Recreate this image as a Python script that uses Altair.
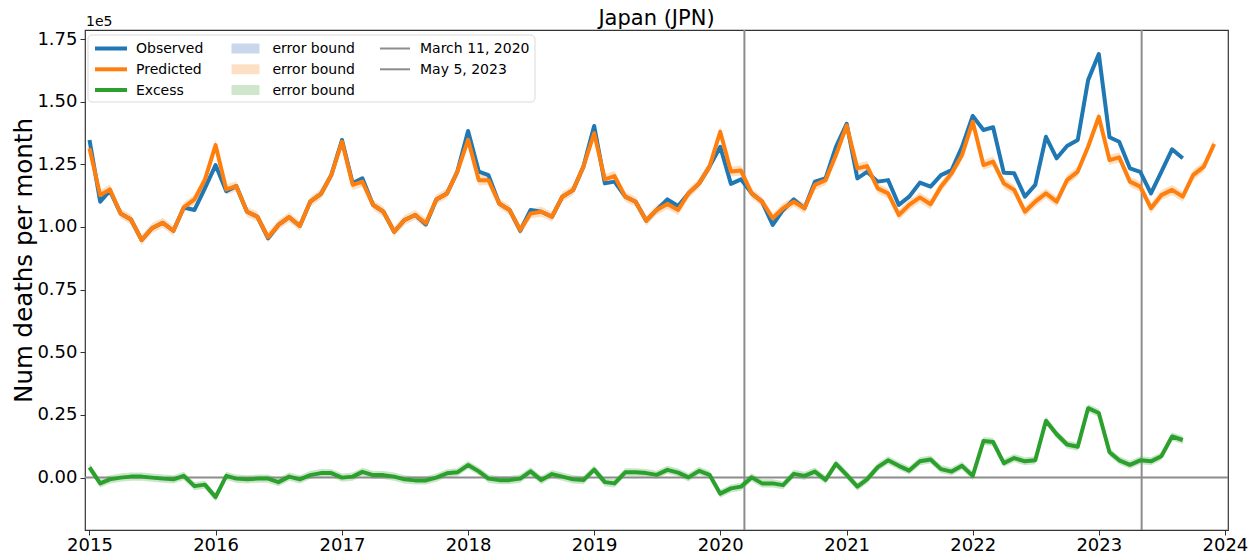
import altair as alt
import pandas as pd

# ---------------- data (values in units of 1e5 deaths) ----------------
MONTHS = pd.date_range("2015-01-01", periods=108, freq="MS").strftime("%Y-%m-%dT00:00:00").tolist()

OBSERVED = [
    1.347, 1.101, 1.145, 1.054, 1.030, 0.948, 0.995, 1.017, 0.985, 1.078, 1.068, 1.154,
    1.247, 1.143, 1.163, 1.061, 1.041, 0.955, 1.008, 1.039, 1.004, 1.101, 1.132, 1.207,
    1.347, 1.174, 1.194, 1.088, 1.061, 0.981, 1.028, 1.048, 1.010, 1.110, 1.134, 1.221,
    1.383, 1.221, 1.207, 1.094, 1.068, 0.985, 1.068, 1.061, 1.041, 1.121, 1.147, 1.241,
    1.403, 1.174, 1.181, 1.121, 1.101, 1.025, 1.068, 1.110, 1.084, 1.134, 1.174, 1.241,
    1.320, 1.172, 1.190, 1.134, 1.101, 1.008, 1.068, 1.110, 1.075, 1.181, 1.194, 1.320,
    1.412, 1.194, 1.220, 1.181, 1.187, 1.088, 1.121, 1.177, 1.161, 1.207, 1.227, 1.320,
    1.443, 1.387, 1.398, 1.216, 1.214, 1.121, 1.168, 1.360, 1.274, 1.323, 1.347, 1.586,
    1.690, 1.358, 1.340, 1.234, 1.220, 1.134, 1.220, 1.310, 1.274,
]

PREDICTED = [
    1.314, 1.127, 1.150, 1.054, 1.030, 0.948, 0.995, 1.017, 0.985, 1.078, 1.110, 1.188,
    1.327, 1.150, 1.163, 1.061, 1.041, 0.959, 1.008, 1.039, 1.004, 1.101, 1.132, 1.207,
    1.340, 1.168, 1.181, 1.088, 1.061, 0.981, 1.028, 1.048, 1.015, 1.110, 1.134, 1.221,
    1.348, 1.187, 1.187, 1.094, 1.068, 0.988, 1.054, 1.061, 1.041, 1.121, 1.147, 1.241,
    1.374, 1.190, 1.203, 1.121, 1.101, 1.025, 1.068, 1.092, 1.068, 1.134, 1.174, 1.241,
    1.380, 1.221, 1.225, 1.134, 1.101, 1.035, 1.075, 1.101, 1.075, 1.168, 1.187, 1.287,
    1.405, 1.234, 1.243, 1.154, 1.134, 1.048, 1.088, 1.118, 1.091, 1.161, 1.214, 1.287,
    1.420, 1.247, 1.261, 1.174, 1.148, 1.061, 1.101, 1.134, 1.101, 1.187, 1.221, 1.320,
    1.440, 1.267, 1.278, 1.181, 1.161, 1.075, 1.127, 1.148, 1.121, 1.207, 1.241, 1.331,
]

EXCESS = [
    0.041, -0.023, -0.007, 0.000, 0.004, 0.004, 0.000, -0.004, -0.007, 0.007, -0.034, -0.028,
    -0.078, 0.007, -0.004, -0.007, -0.004, -0.004, -0.018, 0.004, -0.007, 0.010, 0.018, 0.018,
    0.000, 0.004, 0.023, 0.010, 0.010, 0.004, -0.007, -0.011, -0.011, 0.000, 0.017, 0.021,
    0.050, 0.025, -0.004, -0.010, -0.010, -0.004, 0.025, -0.010, 0.014, 0.004, -0.007, -0.010,
    0.032, -0.018, -0.023, 0.021, 0.021, 0.018, 0.011, 0.031, 0.020, 0.001, 0.027, 0.011,
    -0.064, -0.043, -0.036, 0.001, -0.023, -0.023, -0.030, 0.015, 0.007, 0.024, -0.009, 0.055,
    0.011, -0.036, -0.007, 0.042, 0.069, 0.047, 0.028, 0.065, 0.072, 0.034, 0.024, 0.047,
    0.007, 0.146, 0.142, 0.058, 0.078, 0.065, 0.069, 0.227, 0.173, 0.132, 0.123, 0.277,
    0.258, 0.101, 0.069, 0.051, 0.069, 0.065, 0.085, 0.164, 0.150,
]

# half-widths of the shaded error bounds
OBS_ERR = 0.004
PRED_ERR = 0.02
EXC_ERR = 0.016

EVENT_DATES = ["2020-03-11T00:00:00", "2023-05-05T00:00:00"]
EVENT_NAMES = ["March 11, 2020", "May 5, 2023"]

YEAR_TICKS = list(range(2015, 2025))
Y_TICKS = [0.0, 0.25, 0.5, 0.75, 1.0, 1.25, 1.5, 1.75]

SERIES_NAMES = ["Observed", "Predicted", "Excess"]
SERIES_COLORS = ["#1f77b4", "#ff7f0e", "#2ca02c"]
BAND_COLORS = ["#bcd6e8", "#ffd9b7", "#c0e2c0"]
SWATCH_COLORS = ["#c9d6ec", "#fde0c4", "#cfe6cb"]
EVENT_COLOR = "#8c8c8c"

# legend entries: (label, colour, kind, column, row)
LEGEND_ENTRIES = [
    ("Observed", SERIES_COLORS[0], "line", 0, 0),
    ("Predicted", SERIES_COLORS[1], "line", 0, 1),
    ("Excess", SERIES_COLORS[2], "line", 0, 2),
    ("error bound", SWATCH_COLORS[0], "patch", 1, 0),
    ("error bound", SWATCH_COLORS[1], "patch", 1, 1),
    ("error bound", SWATCH_COLORS[2], "patch", 1, 2),
    ("March 11, 2020", EVENT_COLOR, "event", 2, 0),
    ("May 5, 2023", EVENT_COLOR, "event", 2, 1),
]

# ---------------- tables ----------------
line_rows = []
band_tables = []
for name, vals, err in zip(SERIES_NAMES, [OBSERVED, PREDICTED, EXCESS], [OBS_ERR, PRED_ERR, EXC_ERR]):
    rows = []
    for d, v in zip(MONTHS, vals):
        line_rows.append({"date": d, "series": name, "value": v})
        rows.append({"date": d, "lo": v - err, "hi": v + err})
    band_tables.append(pd.DataFrame(rows))
line_df = pd.DataFrame(line_rows)
event_df = pd.DataFrame({"date": EVENT_DATES, "series": EVENT_NAMES})

# ---------------- scales / axes ----------------
FONT = "DejaVu Sans"
x_scale = alt.Scale(domain=[alt.DateTime(year=2014, month=12, date=19),
                            alt.DateTime(year=2024, month=1, date=10)], nice=False)
y_scale = alt.Scale(domain=[-0.209, 1.786], nice=False, zero=False)

x_axis = alt.Axis(values=[alt.DateTime(year=y, month=1, date=1) for y in YEAR_TICKS],
                  format="%Y", title=None, labelFontSize=18, labelFont=FONT, labelColor="black",
                  tickSize=5, tickColor="#333333", labelPadding=1, grid=False, domain=False,
                  labelFlush=False, labelOverlap=False)
y_axis = alt.Axis(values=Y_TICKS, format=".2f", labelFontSize=18, labelFont=FONT, labelColor="black",
                  tickSize=5, tickColor="#333333", labelPadding=3, grid=False, domain=False,
                  title="Num deaths per month", titleFontSize=24.5, titleFont=FONT,
                  titleFontWeight="normal", titleColor="black", titleAngle=270,
                  titleX=-54, titleY=230, titleAlign="center", titleBaseline="alphabetic")

X = alt.X("date:T", scale=x_scale, axis=x_axis)

layers = []
for df, col in zip(band_tables, BAND_COLORS):
    layers.append(
        alt.Chart(df).mark_area(color=col, opacity=0.85, clip=True).encode(
            x=X,
            y=alt.Y("lo:Q", scale=y_scale, axis=y_axis, stack=None),
            y2="hi:Q",
        )
    )

layers.append(
    alt.Chart(pd.DataFrame({"value": [0.0]})).mark_rule(color=EVENT_COLOR, strokeWidth=2).encode(
        y=alt.Y("value:Q", scale=y_scale, axis=y_axis),
    )
)
layers.append(
    alt.Chart(event_df).mark_rule(color=EVENT_COLOR, strokeWidth=2, clip=True).encode(x=X)
)
layers.append(
    alt.Chart(line_df).mark_line(clip=True, strokeJoin="round", strokeWidth=4).encode(
        x=X,
        y=alt.Y("value:Q", scale=y_scale, axis=y_axis),
        color=alt.Color("series:N", scale=alt.Scale(domain=SERIES_NAMES, range=SERIES_COLORS),
                        legend=None),
    )
)

# ---------------- legend (drawn like matplotlib's 3-column legend) ----------------
one = pd.DataFrame({"a": [0]})
LEG_BOX = (3, 450, 5, 72)          # x0, x1, y0, y1 relative to the plot area
LEG_COL_X = [10, 146.5, 295]       # left edge of the symbol in each column
LEG_ROW_Y = [18.5, 39.3, 60]       # row centres
SYMBOL_LEN = {"line": 32, "patch": 28, "event": 30}
SYMBOL_W = {"line": 4, "patch": 10, "event": 2}

layers.append(
    alt.Chart(one).mark_rect(fill="white", fillOpacity=0.85, stroke="#d9d9d9", strokeWidth=1,
                             cornerRadius=4).encode(
        x=alt.value(LEG_BOX[0]), x2=alt.value(LEG_BOX[1]),
        y=alt.value(LEG_BOX[2]), y2=alt.value(LEG_BOX[3]),
    )
)
for label, colr, kind, c, r in LEGEND_ENTRIES:
    x0 = LEG_COL_X[c]
    x1 = x0 + SYMBOL_LEN[kind]
    yc = LEG_ROW_Y[r]
    layers.append(
        alt.Chart(one).mark_rule(color=colr, strokeWidth=SYMBOL_W[kind], strokeCap="butt").encode(
            x=alt.value(x0), x2=alt.value(x1), y=alt.value(yc), y2=alt.value(yc),
        )
    )
    layers.append(
        alt.Chart(one).mark_text(font=FONT, fontSize=14, align="left", baseline="middle",
                                 color="black").encode(
            x=alt.value(x0 + 41 if kind != "event" else x0 + 40), y=alt.value(yc + 0.5),
            text=alt.value(label),
        )
    )

# ---------------- title and offset text ----------------
layers.append(
    alt.Chart(pd.DataFrame({"t": ["Japan (JPN)"]})).mark_text(
        font=FONT, fontSize=21, align="center", baseline="alphabetic", color="black"
    ).encode(text="t:N", x=alt.value(571.5), y=alt.value(-5))
)
layers.append(
    alt.Chart(pd.DataFrame({"t": ["1e5"]})).mark_text(
        font=FONT, fontSize=14, align="left", baseline="alphabetic", color="black"
    ).encode(text="t:N", x=alt.value(1), y=alt.value(-4))
)

chart = alt.layer(*layers).properties(
    width=1143, height=500,
    padding={"left": 77, "top": 22, "right": 23, "bottom": 22},
    autosize=alt.AutoSizeParams(type="none"),
).configure(font=FONT).configure_view(stroke="#333333", strokeWidth=1.2)

chart.save("out.html", embed_options={"renderer": "svg", "actions": False})
